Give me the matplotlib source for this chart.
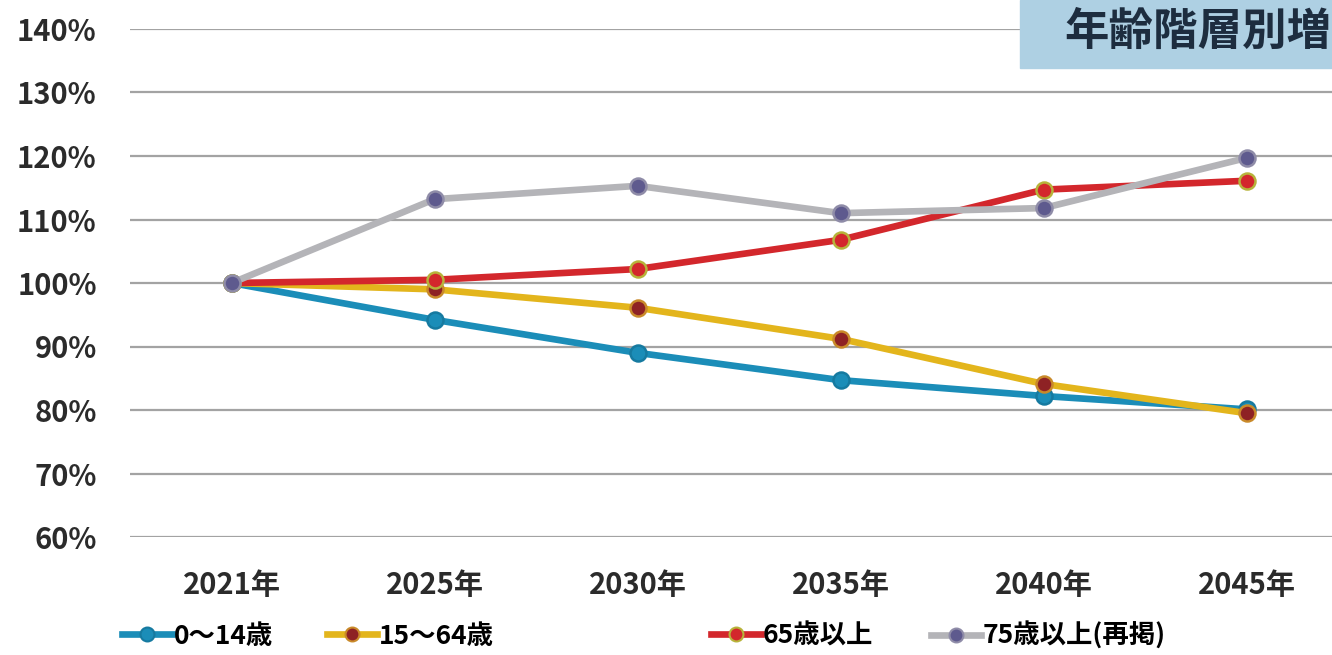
import matplotlib
matplotlib.use('Agg')
from matplotlib import pyplot as plt
from matplotlib.lines import Line2D
from matplotlib.patches import Rectangle

plt.rcParams['font.family'] = ['Noto Sans CJK JP', 'DejaVu Sans']
plt.rcParams['font.weight'] = 'bold'

years = ['2021年', '2025年', '2030年', '2035年', '2040年', '2045年']
age_0_14 = [100, 94.2, 89.0, 84.7, 82.2, 80.1]
age_15_64 = [100, 99.0, 96.1, 91.2, 84.1, 79.5]
age_65_over = [100, 100.5, 102.2, 106.8, 114.7, 116.1]
age_75_over = [100, 113.2, 115.3, 111.0, 111.8, 119.7]
labels = ['0～14歳', '15～64歳', '65歳以上', '75歳以上(再掲)']
yticks = [60, 70, 80, 90, 100, 110, 120, 130, 140]

# line colour, marker face, marker edge
styles = [
    ('#1b8db8', '#1b8db8', '#167aa0'),
    ('#e3b51c', '#8e2224', '#c98a2a'),
    ('#d3272c', '#d3272c', '#b7b33a'),
    ('#b4b4b8', '#5e5a8e', '#8f8ca8'),
]
series = [age_0_14, age_15_64, age_65_over, age_75_over]

fig = plt.figure(figsize=(13.32, 6.55), dpi=100)
ax = fig.add_axes([130 / 1332, 1 - 537 / 655, 1 - 130 / 1332, (537 - 29) / 655])

x = list(range(len(years)))
for vals, (lc, mf, me) in zip(series, styles):
    ax.plot(x, vals, color=lc, lw=4.8, marker='o', ms=11.5, mfc=mf, mec=me,
            mew=1.8, clip_on=False, zorder=3)

ax.set_xlim(-0.5, 5.42)
ax.set_ylim(60, 140)
ax.set_yticks(yticks)
ax.set_yticklabels([f'{v}%' for v in yticks], fontsize=21, color='#2b2b2b')
ax.set_xticks(x)
ax.set_xticklabels(years, fontsize=21, color='#2b2b2b')
ax.tick_params(length=0)
ax.tick_params(axis='y', pad=24)
ax.tick_params(axis='x', pad=24)
ax.grid(axis='y', color='#a3a3a3', lw=1.6)
ax.set_axisbelow(True)
for s in ax.spines.values():
    s.set_visible(False)

# legend entries placed one by one like the original
leg_x = [122, 327, 711, 931]
for lx, lab, (lc, mf, me) in zip(leg_x, labels, styles):
    h = Line2D([], [], color=lc, lw=4.8, marker='o', ms=10, mfc=mf, mec=me, mew=1.5)
    fig.legend([h], [lab], loc='center left', bbox_to_anchor=(lx / 1332, 1 - 636 / 655),
               frameon=False, fontsize=19, handlelength=1.9, handletextpad=0.05,
               borderpad=0, borderaxespad=0)

# title box at top right
fig.patches.append(Rectangle((1020 / 1332, 1 - 68 / 655), 312 / 1332, 68 / 655,
                             transform=fig.transFigure, color='#aed0e3', zorder=5))
fig.text(1064 / 1332, 1 - 32 / 655, '年齢階層別増', fontsize=32, fontweight='bold',
         color='#1d2d3f', va='center', ha='left', zorder=6)

fig.savefig('out.png', dpi=100)
